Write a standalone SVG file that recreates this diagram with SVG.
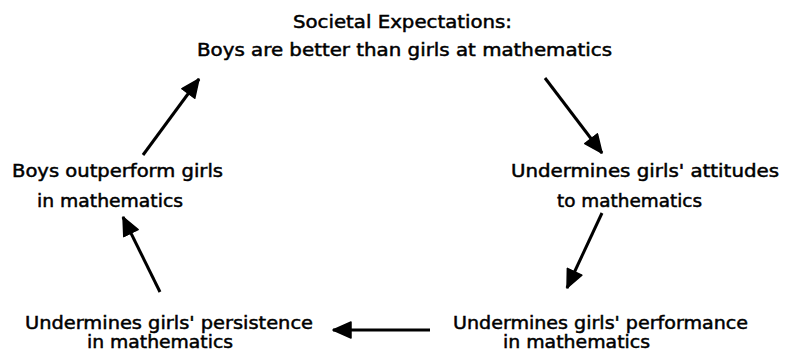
<svg xmlns="http://www.w3.org/2000/svg" width="788" height="355" viewBox="0 0 788 355">
  <style>
    .lbl { font-family: "Comic Sans MS", "DejaVu Sans", sans-serif; font-size: 18px; fill: #000; stroke: #000; stroke-width: 0.5; text-anchor: middle; }
    .conn { stroke: #000; stroke-width: 3; fill: none; marker-end: url(#arrow); }
  </style>
  <defs>
    <marker id="arrow" markerUnits="userSpaceOnUse" viewBox="0 0 20 18" refX="19" refY="9" markerWidth="20" markerHeight="18" orient="auto">
      <path d="M1,1 L19,9 L1,17 Z" fill="#000" stroke="#000" stroke-width="1.5" stroke-linejoin="round"/>
    </marker>
  </defs>
  <rect width="788" height="355" fill="#fff"/>

  <g id="node-societal">
    <text class="lbl" x="402.5" y="28" textLength="219" lengthAdjust="spacingAndGlyphs">Societal Expectations:</text>
    <text class="lbl" x="404.5" y="56" textLength="415" lengthAdjust="spacingAndGlyphs">Boys are better than girls at mathematics</text>
  </g>
  <g id="node-attitudes">
    <text class="lbl" x="645" y="177" textLength="268" lengthAdjust="spacingAndGlyphs">Undermines girls' attitudes</text>
    <text class="lbl" x="629.5" y="207" textLength="145" lengthAdjust="spacingAndGlyphs">to mathematics</text>
  </g>
  <g id="node-performance">
    <text class="lbl" x="600.5" y="329" textLength="295" lengthAdjust="spacingAndGlyphs">Undermines girls' performance</text>
    <text class="lbl" x="576.5" y="348" textLength="147" lengthAdjust="spacingAndGlyphs">in mathematics</text>
  </g>
  <g id="node-persistence">
    <text class="lbl" x="169" y="329" textLength="288" lengthAdjust="spacingAndGlyphs">Undermines girls' persistence</text>
    <text class="lbl" x="160" y="348" textLength="146" lengthAdjust="spacingAndGlyphs">in mathematics</text>
  </g>
  <g id="node-outperform">
    <text class="lbl" x="117.5" y="177" textLength="211" lengthAdjust="spacingAndGlyphs">Boys outperform girls</text>
    <text class="lbl" x="110" y="207" textLength="146" lengthAdjust="spacingAndGlyphs">in mathematics</text>
  </g>

  <g id="connectors">
    <line class="conn" x1="545" y1="78" x2="602" y2="153"/>
    <line class="conn" x1="602" y1="213" x2="567" y2="288"/>
    <line class="conn" x1="430" y1="330" x2="333" y2="330"/>
    <line class="conn" x1="160" y1="292" x2="123" y2="217"/>
    <line class="conn" x1="143" y1="155" x2="199" y2="79"/>
  </g>
</svg>
